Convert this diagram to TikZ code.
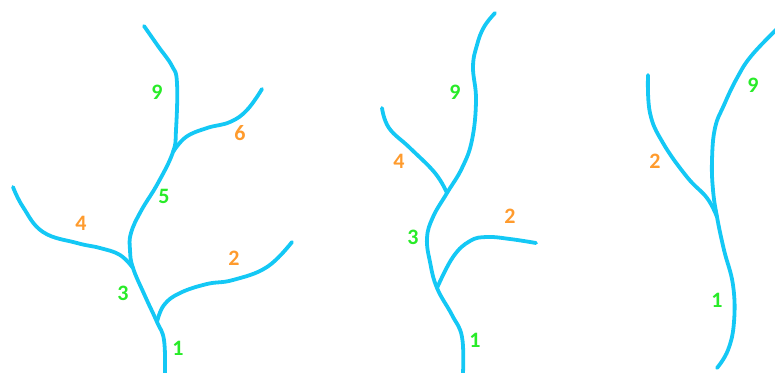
\documentclass[tikz,border=0pt]{standalone}
\usepackage{fontspec}
\setmainfont{Carlito}
\definecolor{branchblue}{RGB}{20,200,245}
\definecolor{labgreen}{RGB}{40,235,40}
\definecolor{laborange}{RGB}{255,155,45}
\tikzset{
  limb/.style={draw=branchblue, line width=3.8pt, line cap=round, line join=round},
  glab/.style={text=labgreen, font=\bfseries\fontsize{22}{22}\selectfont, inner sep=0pt},
  olab/.style={text=laborange, font=\bfseries\fontsize{22}{22}\selectfont, inner sep=0pt}
}
\begin{document}
\begin{tikzpicture}[x=1pt,y=-1pt]
\path[use as bounding box] (0,0) rectangle (775,372);
\clip (0,0) rectangle (775,372);
% ---------- Tree 1 ----------
\coordinate (a1) at (165,373);
\coordinate (a2) at (157,322);
\coordinate (a3) at (133,268);
\coordinate (a5) at (173,152);
\coordinate (a9) at (144,26);
\coordinate (a2e) at (292,242);
\coordinate (a4e) at (13,187);
\coordinate (a6e) at (262,89);
\draw[limb] plot[smooth, tension=0.7] coordinates {(a1) (164,340) (a2) (145,296) (a3) (130,250) (131,233) (141,211) (158,183) (a5) (176,130) (177,83) (172,66) (158,46) (a9)};
\draw[limb] plot[smooth, tension=0.7] coordinates {(a2) (164,305) (180,293) (207,284) (233,280) (267,267) (a2e)};
\draw[limb] plot[smooth, tension=0.7] coordinates {(a3) (120,255) (100,248) (77,243) (43,232) (23,207) (a4e)};
\draw[limb] plot[smooth, tension=0.7] coordinates {(a5) (186,137) (207,128) (230,122) (247,110) (a6e)};
\node[glab] (t1n9) at (157,92) {9};
\node[olab] (t1n6) at (240,133) {6};
\node[glab] (t1n5) at (164,196) {5};
\node[olab] (t1n4) at (81,223) {4};
\node[olab] (t1n2) at (234,258) {2};
\node[glab] (t1n3) at (123,293) {3};
\node[glab] (t1n1) at (178,348) {1};
% ---------- Tree 2 ----------
\coordinate (b1) at (463,373);
\coordinate (b2) at (437,288);
\coordinate (b4) at (447,193);
\coordinate (b9) at (495,13);
\coordinate (b2e) at (536,243);
\coordinate (b4e) at (382,108);
\draw[limb] plot[smooth, tension=0.7] coordinates {(b1) (462,337) (452,315) (b2) (430,262) (427,238) (433,217) (b4) (462,168) (472,140) (476,100) (473,67) (477,45) (484,27) (b9)};
\draw[limb] plot[smooth, tension=0.7] coordinates {(b2) (453,257) (470,241) (487,237) (510,239) (b2e)};
\draw[limb] plot[smooth, tension=0.7] coordinates {(b4) (435,173) (410,148) (389,128) (b4e)};
\node[glab] (t2n9) at (455,92) {9};
\node[olab] (t2n4) at (399,161) {4};
\node[olab] (t2n2) at (510,216) {2};
\node[glab] (t2n3) at (413,237) {3};
\node[glab] (t2n1) at (475,340) {1};
% ---------- Tree 3 ----------
\coordinate (c1) at (717,368);
\coordinate (c2) at (717,217);
\coordinate (c9) at (780,26);
\coordinate (c2e) at (648,75);
\draw[limb] plot[smooth, tension=0.7] coordinates {(c1) (728,350) (734,322) (733,285) (724,250) (c2) (713,190) (712,160) (715,128) (724,105) (737,78) (752,55) (c9)};
\draw[limb] plot[smooth, tension=0.7] coordinates {(c2) (707,198) (687,177) (663,143) (650,113) (c2e)};
\node[glab] (t3n9) at (753,85) {9};
\node[olab] (t3n2) at (655,161) {2};
\node[glab] (t3n1) at (717,300) {1};
\end{tikzpicture}
\end{document}
